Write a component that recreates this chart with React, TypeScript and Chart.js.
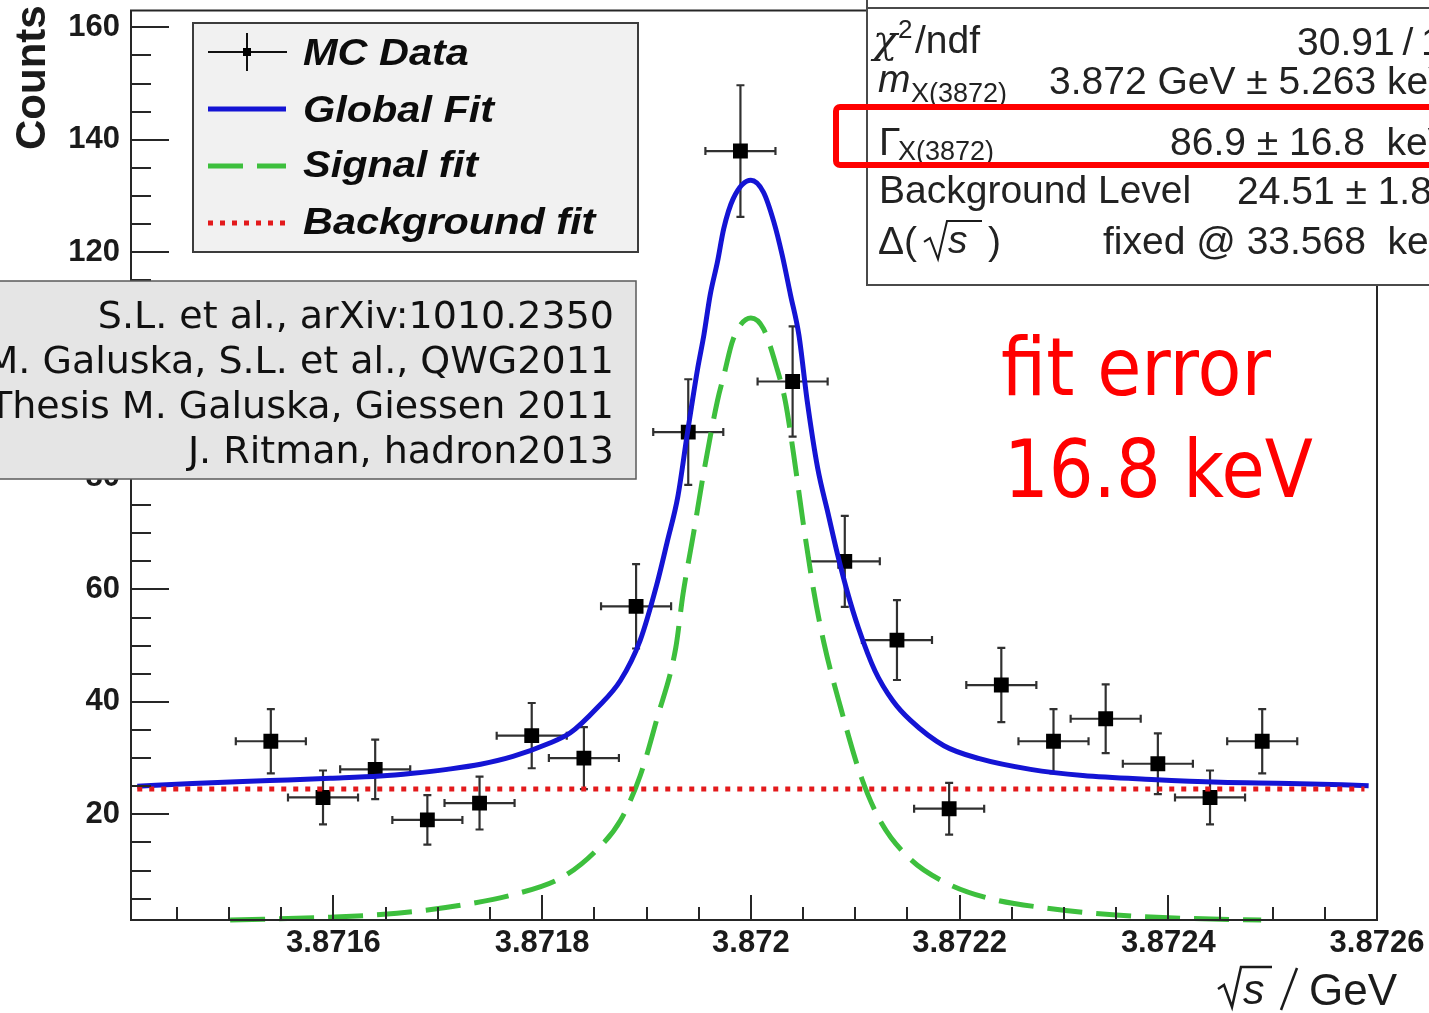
import React, { useEffect, useRef } from "react";
import { Chart, registerables } from "chart.js";

Chart.register(...registerables);

// Energy-scan points: beam energy √s (GeV) and reconstructed counts
const BIN_CENTERS = [
  3.87154, 3.87159, 3.87164, 3.87169, 3.87174, 3.87179, 3.87184, 3.87189, 3.87194, 3.87199,
  3.87204, 3.87209, 3.87214, 3.87219, 3.87224, 3.87229, 3.87234, 3.87239, 3.87244, 3.87249,
];
const COUNTS = [33, 23, 28, 19, 22, 34, 30, 57, 88, 138, 97, 65, 51, 21, 43, 33, 37, 29, 23, 33];
const COUNT_ERRORS = [5.7, 4.8, 5.3, 4.4, 4.7, 5.8, 5.5, 7.5, 9.4, 11.7, 9.8, 8.1, 7.1, 4.6, 6.6, 5.7, 6.1, 5.4, 4.8, 5.7];
// beam energy spread Δ(√s) = 33.568 keV, used as horizontal error
const BEAM_SPREAD = 0.000033568;

// Global fit (signal + background)
const GLOBAL_FIT_X = [
  3.871412, 3.871465, 3.871539, 3.871597, 3.871645, 3.871676, 3.871709, 3.871741, 3.871772, 3.871805,
  3.871827, 3.871853, 3.871875, 3.871894, 3.87191, 3.87192, 3.87193, 3.871939, 3.871949, 3.871955,
  3.871961, 3.871968, 3.871974, 3.871983, 3.872, 3.872012, 3.872022, 3.87203, 3.872038, 3.872046,
  3.872054, 3.872064, 3.872074, 3.872083, 3.872093, 3.872103, 3.872119, 3.872136, 3.872153, 3.872185,
  3.872219, 3.872268, 3.872318, 3.872384, 3.87245, 3.872516, 3.872592,
];
const GLOBAL_FIT_Y = [
  25.0, 25.5, 26.0, 26.4, 26.8, 27.3, 28.0, 28.9, 30.3, 32.5,
  34.5, 39.0, 43.8, 51.0, 61.0, 68.6, 76.5, 87.6, 99.3, 105.3,
  112.4, 118.3, 124.2, 129.5, 132.8, 130.7, 125.4, 119.5, 112.4, 105.3,
  93.5, 81.6, 73.5, 66.3, 59.2, 53.2, 45.5, 40.2, 36.7, 32.2,
  29.9, 28.0, 26.9, 26.2, 25.7, 25.5, 25.1,
];

// Signal fit (X(3872) line shape)
const SIGNAL_FIT_X = [
  3.871501, 3.871597, 3.871661, 3.871724, 3.871772, 3.87182, 3.871853, 3.871875, 3.871894, 3.87191,
  3.871928, 3.871935, 3.871945, 3.871955, 3.871968, 3.871974, 3.871983, 3.872, 3.872012, 3.872025,
  3.872033, 3.872041, 3.87205, 3.87206, 3.87207, 3.872086, 3.872106, 3.872125, 3.872153, 3.872185,
  3.872225, 3.872284, 3.87235, 3.872416, 3.872489,
];
const SIGNAL_FIT_Y = [
  1.2, 1.7, 2.4, 3.9, 5.7, 8.9, 13.8, 18.9, 26.9, 37.0,
  49.6, 59.2, 69.9, 81.0, 93.6, 98.0, 104.5, 108.3, 106.4, 99.3,
  93.5, 84.0, 72.0, 60.0, 50.5, 39.0, 26.5, 18.5, 12.0, 8.0,
  5.2, 3.3, 2.1, 1.5, 1.2,
];

// Flat background level and its drawn range
const BACKGROUND_LEVEL = 24.51;
const BACKGROUND_RANGE = [3.871412, 3.872588];

// Axes
const X_MIN = 3.871406;
const X_MAX = 3.8726;
const Y_MIN = 1.2;
const Y_MAX = 163;
const X_TICKS = [3.8716, 3.8718, 3.872, 3.8722, 3.8724, 3.8726];
const X_TICK_LABELS = ["3.8716", "3.8718", "3.872", "3.8722", "3.8724", "3.8726"];
const X_MINOR_STEP = 0.00005;
const Y_TICKS = [20, 40, 60, 80, 100, 120, 140, 160];
const Y_MINOR_STEP = 5;

// Legend entries
const LEGEND_LABELS = ["MC Data", "Global Fit", "Signal fit", "Background fit"];

// Fit result panel
const STAT_VALUES = [
  "30.91\u2009/\u20091",
  "3.872 GeV \u00b1 5.263 keV",
  "86.9 \u00b1 16.8  keV",
  "24.51 \u00b1 1.8",
  "fixed @ 33.568  keV",
];

// References panel
const CITATIONS = [
  "S.L. et al., arXiv:1010.2350",
  "M. Galuska, S.L. et al., QWG2011",
  "Thesis M. Galuska, Giessen 2011",
  "J. Ritman, hadron2013",
];
const NOTE_LINES = ["fit error", "16.8 keV"];

const SANS = '"Liberation Sans", Arial, Helvetica, sans-serif';
const VERD = '"DejaVu Sans", Verdana, sans-serif';
const INK = "#1b1b1b";
const BLUE = "#1414d4";
const GREEN = "#3dbf3d";
const RED_DOT = "#e31a1c";

function drawText(
  ctx: CanvasRenderingContext2D,
  str: string,
  x: number,
  y: number,
  font: string,
  color: string,
  align: CanvasTextAlign = "left",
  sx = 1
) {
  ctx.save();
  ctx.font = font;
  ctx.fillStyle = color;
  ctx.textAlign = align;
  ctx.textBaseline = "alphabetic";
  ctx.translate(x, y);
  ctx.scale(sx, 1);
  ctx.fillText(str, 0, 0);
  const w = ctx.measureText(str).width * sx;
  ctx.restore();
  return w;
}

function drawTextToWidth(
  ctx: CanvasRenderingContext2D,
  str: string,
  x: number,
  y: number,
  font: string,
  color: string,
  width: number
) {
  ctx.save();
  ctx.font = font;
  const natural = ctx.measureText(str).width;
  ctx.restore();
  drawText(ctx, str, x, y, font, color, "left", width / natural);
}

function drawRadical(ctx: CanvasRenderingContext2D, x: number, top: number, bottom: number, end: number, lw: number) {
  const h = bottom - top;
  ctx.save();
  ctx.strokeStyle = INK;
  ctx.lineWidth = lw;
  ctx.lineJoin = "miter";
  ctx.beginPath();
  ctx.moveTo(x, top + 0.55 * h);
  ctx.lineTo(x + 6, top + 0.45 * h);
  ctx.lineTo(x + 14, bottom);
  ctx.lineTo(x + 23, top);
  ctx.lineTo(end, top);
  ctx.stroke();
  ctx.restore();
}

function minorValues(min: number, max: number, step: number, majors: number[]) {
  const out: number[] = [];
  const k0 = Math.ceil(min / step - 1e-6);
  const k1 = Math.floor(max / step + 1e-6);
  for (let k = k0; k <= k1; k++) {
    const v = k * step;
    if (v < min - step * 1e-3 || v > max + step * 1e-3) continue;
    if (majors.some((m) => Math.abs(m - v) < step * 0.1)) continue;
    out.push(v);
  }
  return out;
}

const rootStylePlugin = {
  id: "rootStyle",
  beforeDraw(chart: any) {
    const ctx = chart.ctx as CanvasRenderingContext2D;
    ctx.save();
    ctx.fillStyle = "#ffffff";
    ctx.fillRect(0, 0, chart.width, chart.height);
    ctx.restore();
  },
  beforeDatasetsDraw(chart: any) {
    const ctx = chart.ctx as CanvasRenderingContext2D;
    const xs = chart.scales.x;
    const ys = chart.scales.y;
    const a = chart.chartArea;
    ctx.save();
    ctx.beginPath();
    ctx.rect(a.left, a.top, a.right - a.left, a.bottom - a.top);
    ctx.clip();
    ctx.strokeStyle = "#303030";
    ctx.lineWidth = 2.2;
    const cap = 4;
    BIN_CENTERS.forEach((x, i) => {
      const px = xs.getPixelForValue(x);
      const py = ys.getPixelForValue(COUNTS[i]);
      const xl = xs.getPixelForValue(x - BEAM_SPREAD);
      const xr = xs.getPixelForValue(x + BEAM_SPREAD);
      const yt = ys.getPixelForValue(COUNTS[i] + COUNT_ERRORS[i]);
      const yb = ys.getPixelForValue(COUNTS[i] - COUNT_ERRORS[i]);
      ctx.beginPath();
      ctx.moveTo(xl, py);
      ctx.lineTo(xr, py);
      ctx.moveTo(px, yt);
      ctx.lineTo(px, yb);
      ctx.moveTo(xl, py - cap);
      ctx.lineTo(xl, py + cap);
      ctx.moveTo(xr, py - cap);
      ctx.lineTo(xr, py + cap);
      ctx.moveTo(px - cap, yt);
      ctx.lineTo(px + cap, yt);
      ctx.moveTo(px - cap, yb);
      ctx.lineTo(px + cap, yb);
      ctx.stroke();
    });
    ctx.restore();
  },
  afterDatasetsDraw(chart: any) {
    const ctx = chart.ctx as CanvasRenderingContext2D;
    const xs = chart.scales.x;
    const ys = chart.scales.y;
    const a = chart.chartArea;
    ctx.save();
    ctx.strokeStyle = "#262626";
    ctx.lineWidth = 2;
    ctx.strokeRect(a.left, a.top, a.right - a.left, a.bottom - a.top);
    ctx.beginPath();
    // y ticks, pointing into the frame
    Y_TICKS.forEach((v) => {
      const p = Math.round(ys.getPixelForValue(v));
      ctx.moveTo(a.left, p);
      ctx.lineTo(a.left + 38, p);
    });
    minorValues(Y_MIN, Y_MAX, Y_MINOR_STEP, Y_TICKS).forEach((v) => {
      const p = Math.round(ys.getPixelForValue(v));
      ctx.moveTo(a.left, p);
      ctx.lineTo(a.left + 20, p);
    });
    // x ticks
    X_TICKS.forEach((v) => {
      const p = Math.round(xs.getPixelForValue(v));
      ctx.moveTo(p, a.bottom);
      ctx.lineTo(p, a.bottom - 25);
    });
    minorValues(X_MIN, X_MAX, X_MINOR_STEP, X_TICKS).forEach((v) => {
      const p = Math.round(xs.getPixelForValue(v));
      ctx.moveTo(p, a.bottom);
      ctx.lineTo(p, a.bottom - 13);
    });
    ctx.stroke();
    ctx.restore();
  },
  afterDraw(chart: any) {
    const ctx = chart.ctx as CanvasRenderingContext2D;
    const W = chart.width;

    // ---- legend ----
    ctx.save();
    ctx.fillStyle = "#f1f1f1";
    ctx.fillRect(193, 23, 445, 229);
    ctx.strokeStyle = "#3c3c3c";
    ctx.lineWidth = 2;
    ctx.strokeRect(193, 23, 445, 229);
    // MC data symbol
    ctx.strokeStyle = "#111";
    ctx.lineWidth = 2;
    ctx.beginPath();
    ctx.moveTo(208, 52);
    ctx.lineTo(287, 52);
    ctx.moveTo(247, 33);
    ctx.lineTo(247, 71);
    ctx.stroke();
    ctx.fillStyle = "#000";
    ctx.fillRect(243, 48, 8, 8);
    // global fit
    ctx.strokeStyle = BLUE;
    ctx.lineWidth = 5;
    ctx.beginPath();
    ctx.moveTo(208, 109);
    ctx.lineTo(286, 109);
    ctx.stroke();
    // signal fit
    ctx.strokeStyle = GREEN;
    ctx.setLineDash([35, 14]);
    ctx.beginPath();
    ctx.moveTo(208, 166);
    ctx.lineTo(286, 166);
    ctx.stroke();
    // background fit
    ctx.strokeStyle = RED_DOT;
    ctx.setLineDash([5, 7]);
    ctx.beginPath();
    ctx.moveTo(208, 223);
    ctx.lineTo(288, 223);
    ctx.stroke();
    ctx.setLineDash([]);
    ctx.restore();
    const legFont = `italic bold 37px ${SANS}`;
    const legBase = [65, 122, 177, 234];
    LEGEND_LABELS.forEach((t, i) => drawText(ctx, t, 303, legBase[i], legFont, "#0c0c0c", "left", 1.12));

    // ---- references panel ----
    ctx.save();
    ctx.fillStyle = "#e5e5e5";
    ctx.fillRect(-4, 281, 640, 198);
    ctx.strokeStyle = "#5a5a5a";
    ctx.lineWidth = 1.5;
    ctx.strokeRect(-4, 281, 640, 198);
    ctx.restore();
    const citeBase = [328, 373, 418, 463];
    CITATIONS.forEach((t, i) => drawText(ctx, t, 614, citeBase[i], `38px ${VERD}`, "#111", "right"));

    // ---- fit result panel ----
    ctx.save();
    ctx.fillStyle = "#ffffff";
    ctx.fillRect(867, -10, W - 867 + 20, 295);
    ctx.strokeStyle = "#4a4a4a";
    ctx.lineWidth = 2;
    ctx.strokeRect(867, -10, W - 867 + 20, 295);
    ctx.beginPath();
    ctx.moveTo(867, 8);
    ctx.lineTo(W, 8);
    ctx.stroke();
    ctx.restore();
    const sf = `39px ${SANS}`;
    const sub = `27px ${SANS}`;
    const grey = "#222";
    // χ²/ndf
    drawText(ctx, "\u03c7", 873, 53, `italic 40px "DejaVu Serif", serif`, grey);
    drawText(ctx, "2", 898, 38, `26px ${SANS}`, grey);
    drawText(ctx, "/ndf", 915, 53, sf, grey);
    // m_X(3872)
    drawText(ctx, "m", 878, 92, `italic 39px ${SANS}`, grey);
    drawText(ctx, "X(3872)", 911, 102, sub, grey);
    // Γ_X(3872)
    drawText(ctx, "\u0393", 879, 155, sf, grey);
    drawText(ctx, "X(3872)", 898, 160, sub, grey);
    // Background Level
    drawText(ctx, "Background Level", 879, 203, sf, grey);
    // Δ(√s)
    drawText(ctx, "\u0394(", 878, 254, sf, grey);
    drawRadical(ctx, 924, 221, 259, 982, 2);
    drawText(ctx, "s", 948, 253, `italic 39px ${SANS}`, grey);
    drawText(ctx, ")", 988, 254, sf, grey);
    const valX = [1297, 1049, 1170, 1237, 1103];
    const valY = [55, 94, 155, 204, 254];
    STAT_VALUES.forEach((t, i) => drawText(ctx, t, valX[i], valY[i], sf, grey));

    // highlighted width line
    ctx.save();
    ctx.strokeStyle = "#ff0000";
    ctx.lineWidth = 6;
    ctx.beginPath();
    (ctx as any).roundRect(836, 107, W - 836 + 30, 58, 4);
    ctx.stroke();
    ctx.restore();

    // annotation
    drawTextToWidth(ctx, NOTE_LINES[0], 1001, 395, `81px ${VERD}`, "#ff0000", 270);
    drawTextToWidth(ctx, NOTE_LINES[1], 1004, 497, `81px ${VERD}`, "#ff0000", 309);

    // ---- axis titles ----
    ctx.save();
    ctx.translate(45, 150);
    ctx.rotate(-Math.PI / 2);
    ctx.font = `bold 42px ${SANS}`;
    ctx.fillStyle = INK;
    ctx.textAlign = "left";
    ctx.fillText("Counts", 0, 0);
    ctx.restore();

    drawRadical(ctx, 1218, 967, 1007, 1272, 2.5);
    drawText(ctx, "s", 1243, 1004, `italic 43px ${SANS}`, INK);
    ctx.save();
    ctx.strokeStyle = INK;
    ctx.lineWidth = 2.5;
    ctx.beginPath();
    ctx.moveTo(1297, 968);
    ctx.lineTo(1281, 1010);
    ctx.stroke();
    ctx.restore();
    drawText(ctx, "GeV", 1309, 1005, `44px ${SANS}`, INK);
  },
};

export default function App() {
  const canvasRef = useRef<HTMLCanvasElement | null>(null);

  useEffect(() => {
    const canvas = canvasRef.current;
    if (!canvas) return;
    const tickFont = { family: "Liberation Sans", size: 31, weight: "bold" as const };
    const chart = new Chart(canvas, {
      type: "scatter",
      data: {
        datasets: [
          {
            label: LEGEND_LABELS[0],
            data: BIN_CENTERS.map((x, i) => ({ x, y: COUNTS[i] })),
            pointStyle: "rect",
            pointRadius: 10.5,
            pointHoverRadius: 10.5,
            backgroundColor: "#000",
            borderWidth: 0,
            showLine: false,
            order: 4,
          },
          {
            type: "line",
            label: LEGEND_LABELS[1],
            data: GLOBAL_FIT_X.map((x, i) => ({ x, y: GLOBAL_FIT_Y[i] })),
            borderColor: BLUE,
            borderWidth: 5,
            pointRadius: 0,
            fill: false,
            cubicInterpolationMode: "monotone",
            order: 3,
          },
          {
            type: "line",
            label: LEGEND_LABELS[2],
            data: SIGNAL_FIT_X.map((x, i) => ({ x, y: SIGNAL_FIT_Y[i] })),
            borderColor: GREEN,
            borderWidth: 5,
            borderDash: [35, 14],
            pointRadius: 0,
            fill: false,
            cubicInterpolationMode: "monotone",
            clip: 6,
            order: 2,
          },
          {
            type: "line",
            label: LEGEND_LABELS[3],
            data: BACKGROUND_RANGE.map((x) => ({ x, y: BACKGROUND_LEVEL })),
            borderColor: RED_DOT,
            borderWidth: 5,
            borderDash: [5, 7],
            pointRadius: 0,
            fill: false,
            order: 1,
          },
        ] as any,
      },
      options: {
        animation: false,
        responsive: true,
        maintainAspectRatio: false,
        layout: { padding: { top: 8, right: 52, left: 0, bottom: 0 } },
        plugins: { legend: { display: false }, tooltip: { enabled: false } },
        scales: {
          x: {
            type: "linear",
            min: X_MIN,
            max: X_MAX,
            grid: { display: false, drawTicks: false },
            border: { display: false },
            afterBuildTicks: (s: any) => {
              s.ticks = X_TICKS.map((v) => ({ value: v }));
            },
            ticks: {
              autoSkip: false,
              maxRotation: 0,
              padding: 5,
              color: INK,
              font: tickFont,
              callback: (_v: any, i: number) => X_TICK_LABELS[i],
            },
            afterFit: (s: any) => {
              s.height = 93;
              s.paddingLeft = 0;
              s.paddingRight = 0;
            },
          },
          y: {
            type: "linear",
            min: Y_MIN,
            max: Y_MAX,
            grid: { display: false, drawTicks: false },
            border: { display: false },
            afterBuildTicks: (s: any) => {
              s.ticks = Y_TICKS.map((v) => ({ value: v }));
            },
            ticks: {
              padding: 11,
              color: INK,
              font: tickFont,
              callback: (v: any) => String(v),
            },
            afterFit: (s: any) => {
              s.width = 131;
              s.paddingTop = 0;
              s.paddingBottom = 0;
            },
          },
        },
      } as any,
      plugins: [rootStylePlugin],
    });
    return () => chart.destroy();
  }, []);

  return (
    <div style={{ position: "fixed", left: 0, top: 0, width: 1429, height: 1013, background: "#fff" }}>
      <canvas ref={canvasRef} />
    </div>
  );
}
